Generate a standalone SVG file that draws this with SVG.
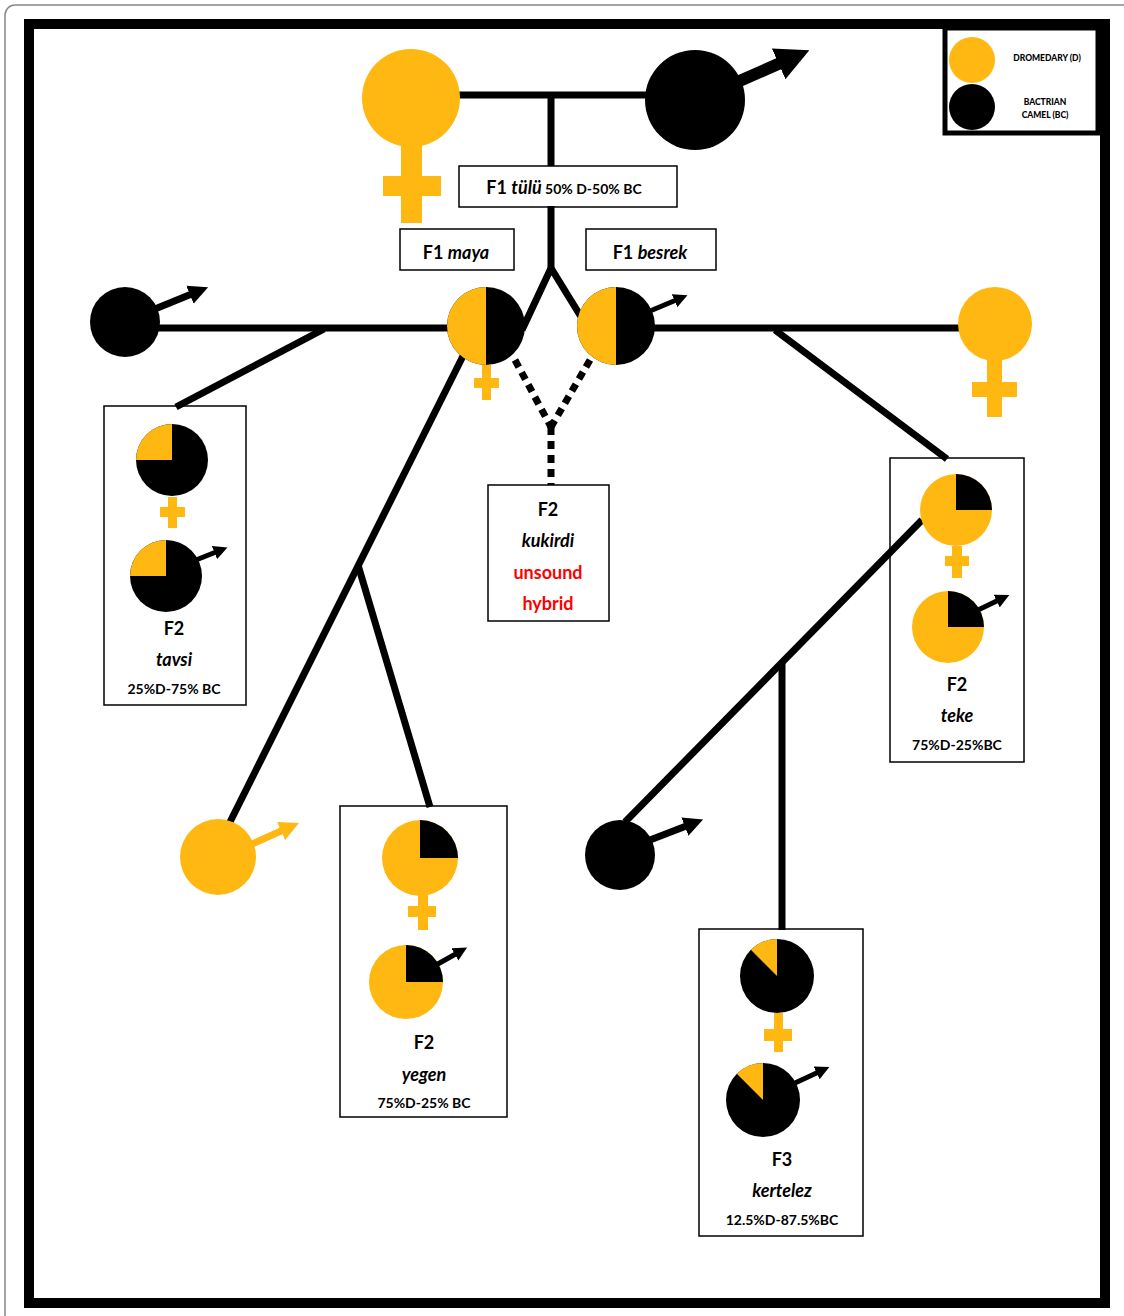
<svg xmlns="http://www.w3.org/2000/svg" width="1124" height="1316" viewBox="0 0 1124 1316">
<style>
.y{fill:#FFB711}
.k{fill:#000}
.ln{stroke:#000;stroke-width:7;fill:none}
.dot{stroke:#000;stroke-width:7;fill:none;stroke-dasharray:8 6}
.box{fill:none;stroke:#000;stroke-width:1.5}
text{font-family:Lato,"Open Sans","Liberation Sans",sans-serif;font-weight:bold;text-anchor:middle;fill:#000}
.it{font-style:italic}
.red{fill:#FF0000}
.lg{font-size:8.5px;font-weight:900}
.t18{font-size:18px}
.t14{font-size:14px}
</style>
<defs>
<marker id="ah" viewBox="0 0 10 10" refX="5" refY="5" markerWidth="2.8" markerHeight="3.0" orient="auto"><path d="M0,0 L10,5 L0,10 z" fill="#000"/></marker>
<marker id="ahy" viewBox="0 0 10 10" refX="5" refY="5" markerWidth="2.8" markerHeight="3.0" orient="auto"><path d="M0,0 L10,5 L0,10 z" fill="#FFB711"/></marker>
</defs>
<rect x="0" y="0" width="1124" height="1316" fill="#fff"/>
<rect x="5" y="5" width="1130" height="1320" rx="10" fill="none" stroke="#888" stroke-width="1.5"/>
<rect x="29" y="24" width="1076" height="1279" fill="none" stroke="#000" stroke-width="10"/>

<g id="legend">
<rect x="945" y="28" width="153" height="105" fill="#fff" stroke="#000" stroke-width="5"/>
<circle cx="972" cy="60" r="23" class="y"/>
<circle cx="972" cy="107" r="23" class="k"/>
<text x="1047" y="61" class="lg">DROMEDARY (D)</text>
<text x="1045" y="105" class="lg">BACTRIAN</text>
<text x="1045" y="118" class="lg">CAMEL (BC)</text>
</g>

<g id="connectors">
<line class="ln" x1="455" y1="95" x2="650" y2="95"/>
<line class="ln" x1="551" y1="95" x2="551" y2="166"/>
<line class="ln" x1="551" y1="206" x2="551" y2="270"/>
<polyline class="ln" points="522,330 551,268 583,320"/>
<line class="ln" x1="150" y1="328" x2="450" y2="328"/>
<line class="ln" x1="324" y1="329" x2="176" y2="407"/>
<line class="ln" x1="465" y1="352" x2="227" y2="828"/>
<line class="ln" x1="358" y1="565" x2="430" y2="807"/>
<line class="ln" x1="650" y1="328" x2="960" y2="328"/>
<line class="ln" x1="775" y1="330" x2="947" y2="459"/>
<line class="ln" x1="922" y1="520" x2="625" y2="822"/>
<line class="ln" x1="782" y1="663" x2="782" y2="930"/>
<line class="dot" x1="515" y1="360" x2="551" y2="427"/>
<line class="dot" x1="590" y1="360" x2="551" y2="427"/>
<line class="dot" x1="551" y1="427" x2="551" y2="485"/>
</g>

<g id="dromedary-female">
<circle cx="411" cy="98" r="49" class="y"/>
<rect x="401" y="140" width="21" height="83" class="y"/>
<rect x="383" y="176" width="58" height="20" class="y"/>
</g>

<g id="bactrian-male">
<circle cx="695" cy="100" r="50" class="k"/>
<line x1="735" y1="83" x2="794" y2="57" stroke="#000" stroke-width="12" marker-end="url(#ah)"/>
</g>

<g id="f1-tulu">
<rect x="459" y="166" width="218" height="41" class="box"/>
<text x="564" y="194"><tspan class="t18">F1 </tspan><tspan class="t18 it">tülü</tspan><tspan class="t14"> 50% D-50% BC</tspan></text>
</g>

<g id="f1-maya-label">
<rect x="400" y="229" width="114" height="41" class="box"/>
<text x="456" y="259" class="t18">F1 <tspan class="it">maya</tspan></text>
</g>

<g id="f1-besrek-label">
<rect x="586" y="229" width="130" height="41" class="box"/>
<text x="650" y="259" class="t18">F1 <tspan class="it">besrek</tspan></text>
</g>

<g id="bc-male-left">
<circle cx="125" cy="322" r="35" class="k"/>
<line x1="150" y1="311" x2="199" y2="291" stroke="#000" stroke-width="7" marker-end="url(#ah)"/>
</g>

<g id="maya">
<circle cx="486" cy="326" r="39" class="k"/>
<path d="M486,287 A39,39 0 0 0 486,365 Z" class="y"/>
<rect x="482" y="365" width="9" height="35" class="y"/>
<rect x="474" y="378" width="25" height="10" class="y"/>
</g>

<g id="besrek">
<circle cx="616" cy="326" r="39" class="k"/>
<path d="M616,287 A39,39 0 0 0 616,365 Z" class="y"/>
<line x1="650" y1="311" x2="681" y2="298" stroke="#000" stroke-width="5" marker-end="url(#ah)"/>
</g>

<g id="d-female-right">
<circle cx="995" cy="324" r="37" class="y"/>
<rect x="987" y="355" width="15" height="62" class="y"/>
<rect x="972" y="382" width="45" height="15" class="y"/>
</g>

<g id="f2-kukirdi">
<rect x="488" y="485" width="121" height="136" class="box"/>
<text x="548" y="516" class="t18">F2</text>
<text x="548" y="547" class="t18 it">kukirdi</text>
<text x="548" y="579" class="t18 red">unsound</text>
<text x="548" y="610" class="t18 red">hybrid</text>
</g>

<g id="f2-tavsi">
<rect x="104" y="406" width="142" height="299" class="box"/>
<circle cx="172" cy="460" r="36" class="k"/>
<path d="M172,460 L136,460 A36,36 0 0 1 172,424 Z" class="y"/>
<rect x="168" y="497" width="9" height="31" class="y"/>
<rect x="160" y="507" width="25" height="10" class="y"/>
<circle cx="166" cy="576" r="36" class="k"/>
<path d="M166,576 L130,576 A36,36 0 0 1 166,540 Z" class="y"/>
<line x1="196" y1="560" x2="221" y2="550" stroke="#000" stroke-width="5" marker-end="url(#ah)"/>
<text x="174" y="635" class="t18">F2</text>
<text x="174" y="666" class="t18 it">tavsi</text>
<text x="174" y="694" class="t14">25%D-75% BC</text>
</g>

<g id="d-male-yellow">
<circle cx="218" cy="857" r="38" class="y"/>
<line x1="250" y1="845" x2="290" y2="827" stroke="#FFB711" stroke-width="7" marker-end="url(#ahy)"/>
</g>

<g id="f2-yegen">
<rect x="340" y="806" width="167" height="311" class="box"/>
<circle cx="420" cy="858" r="38" class="y"/>
<path d="M420,858 L420,820 A38,38 0 0 1 458,858 Z" class="k"/>
<rect x="418" y="895" width="10" height="35" class="y"/>
<rect x="408" y="906" width="28" height="11" class="y"/>
<circle cx="406" cy="982" r="37" class="y"/>
<path d="M406,982 L406,945 A37,37 0 0 1 443,982 Z" class="k"/>
<line x1="436" y1="965" x2="461" y2="951" stroke="#000" stroke-width="5" marker-end="url(#ah)"/>
<text x="424" y="1049" class="t18">F2</text>
<text x="424" y="1081" class="t18 it">yegen</text>
<text x="424" y="1108" class="t14">75%D-25% BC</text>
</g>

<g id="bc-male-lower">
<circle cx="620" cy="855" r="35" class="k"/>
<line x1="650" y1="840" x2="694" y2="823" stroke="#000" stroke-width="7" marker-end="url(#ah)"/>
</g>

<g id="f2-teke">
<rect x="890" y="458" width="134" height="304" class="box"/>
<circle cx="956" cy="510" r="36" class="y"/>
<path d="M956,510 L956,474 A36,36 0 0 1 992,510 Z" class="k"/>
<rect x="952" y="546" width="10" height="32" class="y"/>
<rect x="945" y="556" width="24" height="10" class="y"/>
<circle cx="948" cy="627" r="36" class="y"/>
<path d="M948,627 L948,591 A36,36 0 0 1 984,627 Z" class="k"/>
<line x1="978" y1="610" x2="1003" y2="598" stroke="#000" stroke-width="5" marker-end="url(#ah)"/>
<text x="957" y="691" class="t18">F2</text>
<text x="957" y="722" class="t18 it">teke</text>
<text x="957" y="750" class="t14">75%D-25%BC</text>
</g>

<g id="f3-kertelez">
<rect x="699" y="929" width="164" height="307" class="box"/>
<circle cx="777" cy="976" r="37" class="k"/>
<path d="M777,976 L750.8,949.8 A37,37 0 0 1 777,939 Z" class="y"/>
<rect x="774" y="1013" width="9" height="39" class="y"/>
<rect x="764" y="1029" width="28" height="12" class="y"/>
<circle cx="763" cy="1100" r="37" class="k"/>
<path d="M763,1100 L736.8,1073.8 A37,37 0 0 1 763,1063 Z" class="y"/>
<line x1="795" y1="1083" x2="823" y2="1070" stroke="#000" stroke-width="5" marker-end="url(#ah)"/>
<text x="782" y="1166" class="t18">F3</text>
<text x="782" y="1197" class="t18 it">kertelez</text>
<text x="782" y="1225" class="t14">12.5%D-87.5%BC</text>
</g>
</svg>
